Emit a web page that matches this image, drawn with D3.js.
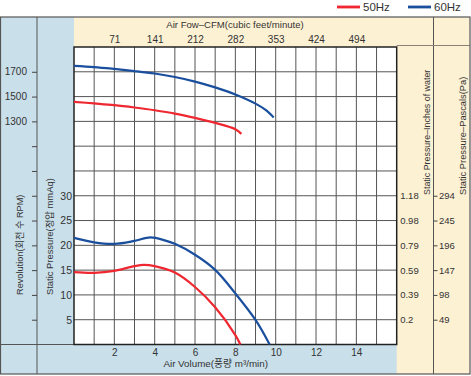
<!DOCTYPE html>
<html>
<head>
<meta charset="utf-8">
<script src="https://cdn.jsdelivr.net/npm/d3@7"></script>
<style>
  html, body { margin: 0; padding: 0; background: #fff; }
  svg { display: block; font-family: "Liberation Sans", Arial, "Noto Sans CJK KR", sans-serif; }
</style>
</head>
<body>
<div id="chart"></div>
<script>
// Air volume (m3/min) ticks and matching CFM labels
const volumeTicks = [2, 4, 6, 8, 10, 12, 14];
const cfmLabels = ['71', '141', '212', '282', '353', '424', '494'];

// Static pressure ticks (mmAq) and right-hand equivalents
const pressureTicks = [5, 10, 15, 20, 25, 30];
const inchLabels = ['0.2', '0.39', '0.59', '0.79', '0.98', '1.18'];
const pascalLabels = ['49', '98', '147', '196', '245', '294'];

const rpmLabels = [1300, 1500, 1700];

// Revolution curves
const rpm50Q = [0, 1, 2, 3, 4, 5, 6, 7, 8, 8.3];
const rpm50 = [1458, 1445, 1431, 1412, 1390, 1363, 1328, 1288, 1237, 1199];
const rpm60Q = [0, 1, 2, 3, 4, 5, 6, 7, 8, 9, 9.5, 9.9];
const rpm60 = [1748, 1738, 1723, 1706, 1686, 1658, 1621, 1574, 1517, 1443, 1392, 1332];

// Static pressure curves
const p50Q = [0, 1, 2, 3, 3.45, 4, 5, 6, 7, 8, 8.25];
const p50 = [14.6, 14.45, 14.85, 15.8, 16.05, 15.8, 14.5, 11.6, 7.5, 1.9, 0];
const p60Q = [0, 1, 2, 3, 3.8, 4.5, 5, 6, 7, 8, 9, 9.7];
const p60 = [21.5, 20.6, 20.3, 20.9, 21.6, 21.0, 20.3, 18.1, 15.05, 10.3, 4.95, 0];

const RED = '#ee2730';
const BLUE = '#1a4f9e';
const BLUE_BG = '#c9dfea';
const CREAM = '#fdf1d4';
const LINE = '#555';

const width = 471;
const height = 376;
const PLOT = { left: 74, right: 396.7, top: 47, bottom: 344.5 };
const FRAME = { left: 0.5, right: 470, top: 17, bottom: 374 };

const svg = d3.select('#chart')
  .append('svg')
  .attr('width', width)
  .attr('height', height);

const x = d3.scaleLinear().domain([0, 16]).range([PLOT.left, PLOT.right]);
const yP = d3.scaleLinear().domain([0, 60]).range([PLOT.bottom, PLOT.top]);
const yR = d3.scaleLinear().domain([-500, 1900]).range([PLOT.bottom, PLOT.top]);

// panels
svg.append('rect')
  .attr('x', FRAME.left).attr('y', FRAME.top)
  .attr('width', FRAME.right - FRAME.left).attr('height', FRAME.bottom - FRAME.top)
  .attr('fill', CREAM);
svg.append('rect')
  .attr('x', FRAME.left).attr('y', FRAME.top)
  .attr('width', PLOT.left - FRAME.left).attr('height', FRAME.bottom - FRAME.top)
  .attr('fill', BLUE_BG);
svg.append('rect')
  .attr('x', FRAME.left).attr('y', PLOT.bottom)
  .attr('width', PLOT.right - FRAME.left).attr('height', FRAME.bottom - PLOT.bottom)
  .attr('fill', BLUE_BG);
svg.append('rect')
  .attr('x', PLOT.left).attr('y', PLOT.top)
  .attr('width', PLOT.right - PLOT.left).attr('height', PLOT.bottom - PLOT.top)
  .attr('fill', '#fff');

// divider lines
const dividers = [
  [37, FRAME.top, 37, FRAME.bottom],
  [433.5, FRAME.top, 433.5, FRAME.bottom],
  [FRAME.left, PLOT.bottom, PLOT.left, PLOT.bottom],
  [PLOT.right, PLOT.top - 1.5, FRAME.right, PLOT.top - 1.5]
];
svg.append('g')
  .selectAll('line')
  .data(dividers)
  .join('line')
  .attr('x1', d => d[0]).attr('y1', d => d[1])
  .attr('x2', d => d[2]).attr('y2', d => d[3])
  .attr('stroke', d => d[1] === d[3] && d[0] > 300 ? '#8a8275' : LINE)
  .attr('stroke-width', 1);

svg.append('rect')
  .attr('x', FRAME.left).attr('y', FRAME.top)
  .attr('width', FRAME.right - FRAME.left).attr('height', FRAME.bottom - FRAME.top)
  .attr('fill', 'none')
  .attr('stroke', LINE)
  .attr('stroke-width', 1.2);

// grid
const grid = svg.append('g').attr('stroke', '#555').attr('stroke-width', 1);
grid.selectAll('.vg')
  .data(d3.range(1, 16))
  .join('line')
  .attr('x1', d => x(d)).attr('x2', d => x(d))
  .attr('y1', PLOT.top).attr('y2', PLOT.bottom);
grid.selectAll('.hg')
  .data(d3.range(5, 60, 5))
  .join('line')
  .attr('y1', d => yP(d)).attr('y2', d => yP(d))
  .attr('x1', PLOT.left).attr('x2', PLOT.right);

svg.append('rect')
  .attr('x', PLOT.left).attr('y', PLOT.top)
  .attr('width', PLOT.right - PLOT.left).attr('height', PLOT.bottom - PLOT.top)
  .attr('fill', 'none')
  .attr('stroke', '#222')
  .attr('stroke-width', 1.5);

// axes
function styleAxis(sel, size) {
  sel.select('.domain').remove();
  sel.selectAll('text').attr('fill', '#333').style('font-size', size + 'px');
  sel.selectAll('line').attr('stroke', '#444');
}

svg.append('g')
  .attr('transform', `translate(0,${PLOT.bottom})`)
  .call(d3.axisBottom(x).tickValues(volumeTicks).tickSize(0).tickPadding(4))
  .call(styleAxis, 10);

svg.append('g')
  .attr('transform', `translate(0,${PLOT.top})`)
  .call(d3.axisTop(x).tickValues(volumeTicks).tickSize(0).tickPadding(4)
    .tickFormat((d, i) => cfmLabels[i]))
  .call(styleAxis, 10);

svg.append('g')
  .attr('transform', `translate(${PLOT.left},0)`)
  .call(d3.axisLeft(yP).tickValues(pressureTicks).tickSize(0).tickPadding(2))
  .call(styleAxis, 10.5);

svg.append('g')
  .attr('transform', 'translate(37,0)')
  .call(d3.axisLeft(yR).tickValues(d3.range(-300, 1701, 200)).tickSize(5).tickPadding(5)
    .tickFormat(d => rpmLabels.includes(d) ? d : ''))
  .call(styleAxis, 10);

svg.append('g')
  .attr('transform', `translate(${PLOT.right},0)`)
  .call(d3.axisRight(yP).tickValues(pressureTicks).tickSize(0).tickPadding(3.5)
    .tickFormat((d, i) => inchLabels[i]))
  .call(styleAxis, 9.5);

svg.append('g')
  .attr('transform', 'translate(433.5,0)')
  .call(d3.axisRight(yP).tickValues(pressureTicks).tickSize(4).tickPadding(1.5)
    .tickFormat((d, i) => pascalLabels[i]))
  .call(styleAxis, 9.5);

// titles
const titles = [
  { text: 'Air Fow–CFM(cubic feet/minute)', x: 235, y: 28, rot: 0, anchor: 'middle', size: 9.6 },
  { text: 'Air Volume(풍량 m³/min)', x: 215.7, y: 366.5, rot: 0, anchor: 'middle', size: 9.8 },
  { text: 'Revolution(회전 수 RPM)', x: 22.5, y: 295, rot: -90, anchor: 'start', size: 9.2 },
  { text: 'Static Pressure(정압 mmAq)', x: 52.5, y: 295, rot: -90, anchor: 'start', size: 9.4 },
  { text: 'Static Pressure–Inches of water', x: 430, y: 195, rot: -90, anchor: 'start', size: 8.9 },
  { text: 'Static Pressure–Pascals(Pa)', x: 465.5, y: 195, rot: -90, anchor: 'start', size: 9.3 }
];
svg.append('g')
  .selectAll('text')
  .data(titles)
  .join('text')
  .attr('transform', d => `translate(${d.x},${d.y}) rotate(${d.rot})`)
  .attr('text-anchor', d => d.anchor)
  .attr('fill', '#333')
  .style('font-size', d => d.size + 'px')
  .text(d => d.text);

// curves
const line = d3.line()
  .x(d => x(d[0]))
  .y(d => d[2](d[1]))
  .curve(d3.curveCatmullRom.alpha(0.5));

const series = [
  { q: rpm50Q, v: rpm50, scale: yR, color: RED },
  { q: rpm60Q, v: rpm60, scale: yR, color: BLUE },
  { q: p50Q, v: p50, scale: yP, color: RED },
  { q: p60Q, v: p60, scale: yP, color: BLUE }
];

svg.append('g')
  .selectAll('path')
  .data(series)
  .join('path')
  .attr('d', s => line(s.q.map((q, i) => [q, s.v[i], s.scale])))
  .attr('fill', 'none')
  .attr('stroke', s => s.color)
  .attr('stroke-width', 2.2);

// legend
const legend = [
  { label: '50Hz', color: RED, x: 337 },
  { label: '60Hz', color: BLUE, x: 408 }
];
const lg = svg.append('g')
  .selectAll('g')
  .data(legend)
  .join('g')
  .attr('transform', d => `translate(${d.x},7)`);
lg.append('line')
  .attr('x1', 0).attr('x2', 23)
  .attr('stroke', d => d.color)
  .attr('stroke-width', 2.8);
lg.append('text')
  .attr('x', 26)
  .attr('y', 4)
  .attr('fill', '#333')
  .style('font-size', '11.5px')
  .text(d => d.label);
</script>
</body>
</html>
